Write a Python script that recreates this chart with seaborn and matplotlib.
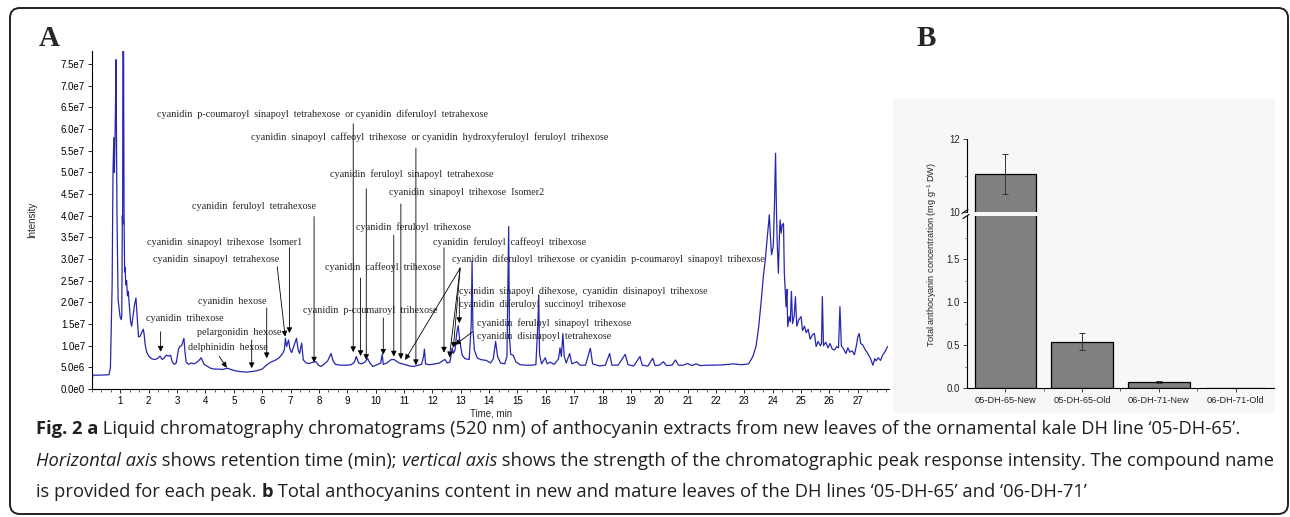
import numpy as np
import pandas as pd
import matplotlib
matplotlib.use("Agg")
import matplotlib.pyplot as plt
import seaborn as sns
from matplotlib.patches import FancyBboxPatch, Rectangle
from matplotlib.lines import Line2D
from matplotlib.transforms import IdentityTransform
from matplotlib.ticker import MultipleLocator, FuncFormatter, FixedLocator

# ---------------- data: chromatogram (panel A) ----------------
time_min = [0.00, 0.03, 0.30, 0.60, 0.65, 0.71, 0.74, 0.77, 0.79, 0.82, 0.85, 0.86, 0.88, 0.92, 0.99,
            1.03, 1.05, 1.07, 1.08, 1.09, 1.11, 1.13, 1.15, 1.17, 1.19, 1.22, 1.25, 1.28, 1.32, 1.36,
            1.40, 1.45, 1.50, 1.55, 1.60, 1.64, 1.70, 1.75, 1.81, 1.84, 1.88, 1.93, 2.00, 2.10, 2.20,
            2.30, 2.40, 2.48, 2.55, 2.62, 2.70, 2.77, 2.83, 2.90, 2.97, 3.05, 3.10, 3.16, 3.24, 3.28,
            3.32, 3.40, 3.50, 3.60, 3.70, 3.80, 3.85, 3.95, 4.05, 4.18, 4.30, 4.45, 4.60, 4.77, 4.90,
            5.05, 5.25, 5.45, 5.60, 5.80, 6.00, 6.15, 6.30, 6.45, 6.60, 6.72, 6.78, 6.82, 6.86, 6.93,
            6.98, 7.04, 7.11, 7.21, 7.27, 7.32, 7.39, 7.45, 7.55, 7.66, 7.80, 7.90, 7.98, 8.07, 8.20,
            8.31, 8.43, 8.50, 8.58, 8.75, 8.96, 9.14, 9.25, 9.32, 9.40, 9.50, 9.62, 9.72, 9.80, 9.90,
            10.05, 10.18, 10.23, 10.27, 10.40, 10.55, 10.65, 10.83, 11.00, 11.20, 11.35, 11.50, 11.62,
            11.69, 11.72, 11.76, 11.90, 12.10, 12.25, 12.38, 12.45, 12.52, 12.62, 12.70, 12.74, 12.80,
            12.86, 12.91, 12.97, 13.05, 13.15, 13.30, 13.37, 13.40, 13.43, 13.48, 13.58, 13.70, 13.90,
            14.05, 14.15, 14.23, 14.30, 14.40, 14.55, 14.63, 14.69, 14.72, 14.76, 14.85, 14.95, 15.10,
            15.30, 15.50, 15.65, 15.72, 15.75, 15.78, 15.85, 15.98, 16.05, 16.15, 16.30, 16.45, 16.50,
            16.55, 16.60, 16.65, 16.72, 16.84, 16.92, 17.10, 17.20, 17.40, 17.57, 17.65, 17.90, 18.10,
            18.25, 18.33, 18.55, 18.80, 18.90, 19.10, 19.32, 19.40, 19.60, 19.77, 19.85, 20.00, 20.15,
            20.25, 20.45, 20.57, 20.68, 20.85, 21.00, 21.15, 21.30, 21.45, 21.70, 21.95, 22.30, 22.60,
            22.90, 23.15, 23.30, 23.41, 23.50, 23.59, 23.67, 23.74, 23.80, 23.85, 23.88, 23.92, 23.96,
            24.02, 24.06, 24.10, 24.13, 24.16, 24.20, 24.23, 24.26, 24.30, 24.33, 24.38, 24.41, 24.47,
            24.50, 24.53, 24.58, 24.62, 24.66, 24.70, 24.76, 24.80, 24.85, 24.92, 25.00, 25.05, 25.12,
            25.18, 25.25, 25.32, 25.40, 25.47, 25.53, 25.60, 25.68, 25.72, 25.75, 25.79, 25.87, 25.95,
            26.02, 26.10, 26.18, 26.26, 26.32, 26.37, 26.42, 26.50, 26.58, 26.65, 26.72, 26.80, 26.88,
            26.95, 27.00, 27.05, 27.10, 27.17, 27.25, 27.35, 27.45, 27.53, 27.60, 27.65, 27.72, 27.80,
            27.88, 27.95, 28.05]
# intensity in units of 1e7
intensity_e7 = [0.15, 0.32, 0.32, 0.33, 0.50, 2.40, 5.00, 5.80, 5.00, 6.17, 7.60, 6.20, 4.06, 2.06, 1.67,
                1.60, 1.70, 4.00, 3.80, 8.50, 8.50, 4.00, 2.70, 2.80, 2.40, 2.50, 2.15, 2.25, 1.90, 1.55,
                1.45, 1.70, 1.95, 2.10, 1.60, 1.20, 1.22, 1.30, 1.38, 1.25, 1.00, 0.85, 0.76, 0.70, 0.68,
                0.70, 0.76, 0.68, 0.72, 0.78, 0.76, 0.78, 0.62, 0.57, 0.60, 0.92, 0.98, 1.00, 1.17, 0.85,
                0.62, 0.57, 0.60, 0.58, 0.62, 0.68, 0.72, 0.57, 0.53, 0.48, 0.46, 0.46, 0.45, 0.48, 0.45,
                0.42, 0.40, 0.39, 0.40, 0.42, 0.46, 0.55, 0.62, 0.66, 0.72, 0.82, 0.90, 1.17, 0.98, 1.13,
                0.92, 0.84, 0.98, 1.17, 0.90, 0.82, 1.06, 0.67, 0.60, 0.59, 0.62, 0.63, 0.55, 0.52, 0.58,
                0.65, 0.82, 0.65, 0.57, 0.55, 0.55, 0.56, 0.62, 0.75, 0.60, 0.58, 0.62, 0.70, 0.60, 0.52,
                0.56, 0.60, 0.80, 0.57, 0.60, 0.68, 0.68, 0.60, 0.57, 0.53, 0.52, 0.55, 0.57,
                0.75, 0.92, 0.58, 0.56, 0.58, 0.60, 0.66, 0.68, 0.60, 0.62, 0.95, 0.82, 0.90,
                1.30, 1.46, 1.10, 0.78, 0.70, 0.68, 1.50, 2.95, 1.40, 0.90, 0.72, 0.68, 0.66,
                0.60, 0.70, 1.10, 0.75, 0.60, 0.58, 0.75, 3.75, 1.20, 0.80, 0.78, 0.62, 0.56,
                0.55, 0.55, 0.56, 1.50, 2.17, 0.80, 0.58, 0.72, 0.58, 0.62, 0.57, 0.70, 0.95,
                0.75, 1.28, 0.75, 0.60, 0.82, 0.58, 0.63, 0.55, 0.55, 0.94, 0.58, 0.53, 0.55,
                0.82, 0.55, 0.55, 0.80, 0.56, 0.53, 0.75, 0.55, 0.53, 0.71, 0.54, 0.55, 0.63,
                0.54, 0.55, 0.67, 0.55, 0.55, 0.59, 0.54, 0.58, 0.54, 0.55, 0.55, 0.56, 0.58,
                0.56, 0.58, 0.75, 0.98, 1.40, 2.00, 2.60, 3.00, 3.45, 3.80, 4.02, 3.50, 3.10,
                3.30, 4.20, 5.44, 4.20, 3.36, 2.67, 3.40, 3.90, 3.60, 3.78, 3.82, 2.67, 1.90,
                2.30, 1.44, 1.67, 1.55, 2.25, 1.51, 1.70, 2.13, 1.45, 1.60, 1.67, 1.35, 1.45,
                1.30, 1.38, 1.15, 1.25, 1.28, 0.98, 1.10, 1.00, 1.05, 2.13, 1.00, 1.08, 0.95,
                1.05, 0.92, 0.90, 0.98, 0.95, 1.90, 1.00, 0.92, 0.82, 0.95, 0.85, 0.88, 0.79,
                1.00, 1.20, 1.28, 1.05, 1.02, 0.92, 0.82, 0.70, 0.55, 0.70, 0.65, 0.72, 0.66,
                0.79, 0.85, 0.98]

# peak annotations: label, label anchor (time, intensity e7), arrows [(start), (tip)]
peak_labels = [
    "cyanidin  p-coumaroyl  sinapoyl  tetrahexose  or cyanidin  diferuloyl  tetrahexose",
    "cyanidin  sinapoyl  caffeoyl  trihexose  or cyanidin  hydroxyferuloyl  feruloyl  trihexose",
    "cyanidin  feruloyl  sinapoyl  tetrahexose",
    "cyanidin  sinapoyl  trihexose  Isomer2",
    "cyanidin  feruloyl  tetrahexose",
    "cyanidin  feruloyl  trihexose",
    "cyanidin  sinapoyl  trihexose  Isomer1",
    "cyanidin  feruloyl  caffeoyl  trihexose",
    "cyanidin  sinapoyl  tetrahexose",
    "cyanidin  caffeoyl  trihexose",
    "cyanidin  diferuloyl  trihexose  or cyanidin  p-coumaroyl  sinapoyl  trihexose",
    "cyanidin  p-coumaroyl  trihexose",
    "cyanidin  hexose",
    "cyanidin  trihexose",
    "pelargonidin  hexose",
    "delphinidin  hexose",
    "cyanidin  sinapoyl  dihexose,  cyanidin  disinapoyl  trihexose",
    "cyanidin  diferuloyl  succinoyl  trihexose",
    "cyanidin  feruloyl  sinapoyl  trihexose",
    "cyanidin  disinapoyl  tetrahexose",
]
label_anchor = [(2.29, 6.35), (5.60, 5.82), (8.39, 4.96), (10.48, 4.53), (3.52, 4.23), (9.30, 3.74),
                (1.94, 3.38), (12.01, 3.39), (2.15, 2.98), (8.22, 2.82), (12.68, 2.99), (7.45, 1.81),
                (3.75, 2.01), (1.89, 1.63), (3.69, 1.30), (3.37, 0.95), (12.94, 2.26), (12.94, 1.95),
                (13.56, 1.53), (13.56, 1.21)]
arrow_list = [
    ((9.21, 6.12), (9.21, 0.85)), ((11.42, 5.56), (11.42, 0.55)), ((9.67, 4.62), (9.67, 0.67)),
    ((10.89, 4.27), (10.89, 0.69)), ((7.83, 3.98), (7.83, 0.61)), ((10.64, 3.55), (10.64, 0.75)),
    ((6.96, 3.26), (6.96, 1.29)), ((12.41, 3.26), (12.41, 0.84)), ((6.53, 2.82), (6.81, 1.21)),
    ((9.47, 2.56), (9.47, 0.76)), ((12.98, 2.79), (11.04, 0.67)), ((12.98, 2.79), (12.60, 0.73)),
    ((12.98, 2.79), (12.74, 0.95)), ((10.27, 1.64), (10.27, 0.79)), ((6.16, 1.87), (6.16, 0.71)),
    ((2.42, 1.32), (2.42, 0.86)), ((5.63, 1.13), (5.63, 0.48)), ((4.48, 0.76), (4.75, 0.49)),
    ((12.95, 2.12), (12.95, 1.52)), ((13.42, 1.32), (12.80, 1.02)),
]

# ---------------- data: total anthocyanin (panel B) ----------------
groups = ["05-DH-65-New", "05-DH-65-Old", "06-DH-71-New", "06-DH-71-Old"]
conc = [11.05, 0.54, 0.075, 0.0]
conc_err = [0.55, 0.10, 0.012, 0.0]

caption_lines = [
    [("Fig. 2 a", "bold", "normal"),
     (" Liquid chromatography chromatograms (520 nm) of anthocyanin extracts from new leaves of the ornamental kale DH line \u201805-DH-65\u2019.", "normal", "normal")],
    [("Horizontal axis", "normal", "italic"), (" shows retention time (min); ", "normal", "normal"),
     ("vertical axis", "normal", "italic"),
     (" shows the strength of the chromatographic peak response intensity. The compound name", "normal", "normal")],
    [("is provided for each peak. ", "normal", "normal"), ("b", "bold", "normal"),
     (" Total anthocyanins content in new and mature leaves of the DH lines \u201805-DH-65\u2019 and \u201806-DH-71\u2019", "normal", "normal")],
]

# ---------------- figure ----------------
sns.set_style("ticks")
plt.rcParams["font.family"] = ["Liberation Sans", "DejaVu Sans"]
W, H = 1290, 517
fig = plt.figure(figsize=(W / 100, H / 100), dpi=100)
fig.patch.set_facecolor("white")
ident = IdentityTransform()

def fx(x):
    return x / W

def fy(y):
    return 1 - y / H

# outer rounded frame
fig.add_artist(FancyBboxPatch((10, 3), 1278, 506, boxstyle="round,pad=0,rounding_size=10",
                              transform=ident, fill=False, edgecolor="#222222", linewidth=1.4, zorder=0))
# light grey panel B background
fig.add_artist(Rectangle((893, H - 413), 1275 - 893, 413 - 98, transform=ident,
                         facecolor="#f7f7f7", edgecolor="none", zorder=0))

# ----- Panel A -----
axA = fig.add_axes([fx(92), fy(389), fx(889 - 92), (389 - 51) / H])
axA.set_facecolor("none")
dfA = pd.DataFrame({"time": time_min, "intensity": np.array(intensity_e7) * 1e7})
sns.lineplot(data=dfA, x="time", y="intensity", ax=axA, color="#2626b0", linewidth=0.9,
             estimator=None, sort=False)
axA.set_xlim(0, 28.1)
axA.set_ylim(0, 7.8e7)
axA.xaxis.set_major_locator(FixedLocator(list(range(1, 28))))
axA.xaxis.set_minor_locator(MultipleLocator(1 / 3))
axA.yaxis.set_major_locator(MultipleLocator(0.5e7))

def sci(v, pos):
    if abs(v) < 1:
        return "0.0e0"
    e = int(np.floor(np.log10(abs(v)) + 1e-9))
    return f"{v / 10 ** e:.1f}e{e}"

axA.yaxis.set_major_formatter(FuncFormatter(sci))
axA.tick_params(axis="both", which="major", direction="out", length=3, width=0.6, labelsize=7, pad=2,
                colors="black")
axA.tick_params(axis="both", which="minor", direction="out", length=1.8, width=0.5)
for s in ["top", "right"]:
    axA.spines[s].set_visible(False)
for s in ["left", "bottom"]:
    axA.spines[s].set_linewidth(0.8)
    axA.spines[s].set_color("black")
axA.set_xlabel("")
axA.set_ylabel("")
fig.text(fx(32), fy(220), "Intensity", rotation=90, fontsize=7, ha="center", va="center")
fig.text(fx(491), fy(414), "Time, min", fontsize=7, ha="center", va="center")

for lab, (lt, li) in zip(peak_labels, label_anchor):
    axA.text(lt, li * 1e7, lab, fontsize=7.3, family=["Liberation Serif", "DejaVu Serif"],
             ha="left", va="center", clip_on=False)
for (s, e) in arrow_list:
    axA.annotate("", xy=(e[0], e[1] * 1e7), xytext=(s[0], s[1] * 1e7),
                 arrowprops=dict(arrowstyle="-|>", color="black", lw=0.6, mutation_scale=8,
                                 shrinkA=0, shrinkB=0), annotation_clip=False)

fig.text(fx(49), fy(38), "A", fontsize=21, fontweight="bold", family=["Liberation Serif"],
         ha="center", va="center")
fig.text(fx(926), fy(38), "B", fontsize=21, fontweight="bold", family=["Liberation Serif"],
         ha="center", va="center")

# ----- Panel B (broken axis) -----
dfB = pd.DataFrame({"group": groups, "conc": conc, "err": conc_err})
axLo = fig.add_axes([fx(967), fy(388), fx(1274 - 967), (388 - 216) / H])
axHi = fig.add_axes([fx(967), fy(212), fx(1274 - 967), (212 - 139) / H])
for ax in (axLo, axHi):
    ax.set_facecolor("none")
    sns.barplot(data=dfB, x="group", y="conc", ax=ax, color="#808080", saturation=1,
                edgecolor="black", linewidth=0.9, width=0.8, errorbar=None)
    m = dfB["err"] > 0
    ax.errorbar(np.arange(len(groups))[m], dfB["conc"][m], yerr=dfB["err"][m], fmt="none",
                ecolor="#333333", elinewidth=0.7, capsize=2.5, capthick=0.7)
    ax.set_xlim(-0.5, 3.5)
    ax.set_xlabel("")
    ax.set_ylabel("")
    for s in ["top", "right"]:
        ax.spines[s].set_visible(False)
    ax.spines["left"].set_linewidth(0.8)
    ax.spines["left"].set_color("black")
    ax.tick_params(axis="y", which="major", direction="out", length=3, width=0.6, labelsize=7, pad=2)
    ax.tick_params(axis="y", which="minor", direction="out", length=1.8, width=0.5)

axLo.set_ylim(0, 2.0)
axLo.yaxis.set_major_locator(FixedLocator([0, 0.5, 1.0, 1.5]))
axLo.yaxis.set_minor_locator(FixedLocator([0.25, 0.75, 1.25, 1.75]))
axLo.yaxis.set_major_formatter(FuncFormatter(lambda v, p: f"{v:.1f}"))
axLo.spines["bottom"].set_linewidth(0.8)
axLo.spines["bottom"].set_color("black")
axLo.xaxis.set_minor_locator(FixedLocator([0.5, 1.5, 2.5]))
axLo.tick_params(axis="x", which="major", direction="out", length=3, width=0.6, labelsize=6.7, pad=3)
axLo.tick_params(axis="x", which="minor", direction="out", length=2, width=0.5)

axHi.set_ylim(10, 12)
axHi.yaxis.set_major_locator(FixedLocator([10, 12]))
axHi.yaxis.set_minor_locator(FixedLocator([11]))
axHi.yaxis.set_major_formatter(FuncFormatter(lambda v, p: f"{v:.0f}"))
axHi.spines["bottom"].set_visible(False)
axHi.tick_params(axis="x", which="both", bottom=False, labelbottom=False)

# break marks on the y axis
for (x0, y0, x1, y1) in [(962, 213.5, 968, 209.5), (963, 218.5, 969, 214.5)]:
    fig.add_artist(Line2D([x0, x1], [H - y0, H - y1], transform=ident, color="black", lw=0.8))

fig.text(fx(932), fy(254), r"Total anthocyanin concentration (mg g$^{\mathregular{-1}}$ DW)",
         rotation=90, fontsize=6.6, ha="center", va="center")

# ----- caption -----
fig.canvas.draw()
renderer = fig.canvas.get_renderer()
cap_family = ["Open Sans", "DejaVu Sans"]
probe = fig.text(0, 0, "".join(s[0] for s in caption_lines[1]), fontsize=12, family=cap_family)
pw = probe.get_window_extent(renderer).width
probe.remove()
cap_size = 12 * (1276 - 36) / pw
for y_px, segs in zip([429, 461, 492], caption_lines):
    x = 36
    for txt, wt, st in segs:
        t = fig.text(fx(x), fy(y_px), txt, fontsize=cap_size, fontweight=wt, fontstyle=st,
                     family=cap_family, ha="left", va="center", color="#231f20")
        x = t.get_window_extent(renderer).x1

fig.savefig("out.png", dpi=100)
